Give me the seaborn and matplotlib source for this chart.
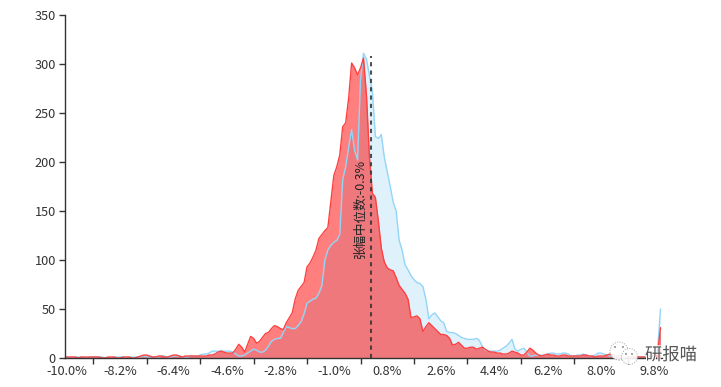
import numpy as np
import pandas as pd
import matplotlib
matplotlib.use("Agg")
import matplotlib.pyplot as plt
import seaborn as sns
from matplotlib.patches import Circle
import matplotlib.patheffects as pe

pct = [round(-10 + i * 0.1, 1) for i in range(201)]

red_vals = [1,1,1,1,0,1,1,1,1,1,
            1,1,0,0,1,1,1,0,0,1,
            1,1,0,0,1,2,3,3,2,1,
            1,2,2,1,1,2,3,3,2,1,
            2,2,2,2,2,2,2,2,3,3,
            4,6,7,6,5,5,5,9,14,11,
            6,14,22,20,15,17,21,25,26,30,
            33,32,30,29,36,41,46,60,69,73,
            77,93,97,103,110,122,126,130,133,160,
            186,195,207,236,240,265,301,296,289,296,
            306,268,205,168,164,140,112,98,92,90,
            89,82,74,70,66,60,41,42,43,40,
            27,32,36,33,30,27,24,24,23,20,
            13,14,16,13,10,10,11,11,9,10,
            11,9,7,6,6,5,5,4,4,5,
            7,6,5,3,3,6,10,8,5,3,
            2,3,4,3,3,2,2,3,3,2,
            2,2,2,2,3,3,2,2,1,2,
            2,2,3,4,3,2,2,2,1,1,
            1,1,1,1,1,1,1,2,2,4,
            31]

blue_vals = [1,0,0,1,1,1,0,0,1,1,
             1,1,1,0,0,0,1,1,1,1,
             0,1,1,1,1,1,2,1,1,1,
             1,1,2,2,1,1,2,2,2,1,
             1,1,2,2,2,3,4,4,5,7,
             7,7,7,7,7,7,6,4,2,2,
             3,5,7,9,8,6,6,8,12,17,
             19,20,20,26,32,31,30,30,33,37,
             45,56,58,60,61,66,74,100,110,115,
             118,120,126,182,195,215,233,212,202,284,
             311,305,288,272,226,224,228,205,190,175,
             159,150,120,110,95,90,84,80,77,76,
             73,60,40,44,46,42,38,36,27,26,
             26,25,23,21,20,19,19,19,20,18,
             12,8,7,7,7,7,8,10,12,15,
             19,9,7,9,10,6,2,2,3,3,
             3,3,4,5,5,4,4,5,5,4,
             2,2,3,3,4,3,2,2,3,5,
             5,4,3,2,2,2,2,1,1,1,
             1,1,1,1,1,1,1,2,3,8,
             50]

x_labels = ["-10.0%","-8.2%","-6.4%","-4.6%","-2.8%","-1.0%","0.8%","2.6%","4.4%","6.2%","8.0%","9.8%"]
x_label_pos = [-10.0,-8.2,-6.4,-4.6,-2.8,-1.0,0.8,2.6,4.4,6.2,8.0,9.8]
x_tick_pos = [-9.1,-7.3,-5.5,-3.7,-1.9,-0.1,1.7,3.5,5.3,7.1,8.9]
y_ticks = [0,50,100,150,200,250,300,350]
median_x = 0.25
median_top = 308

sns.set_theme(style="ticks")
plt.rcParams['font.family'] = ['Noto Sans CJK SC', 'DejaVu Sans']

df = pd.DataFrame({"pct": pct, "red": red_vals, "blue": blue_vals})

fig = plt.figure(figsize=(7.21, 3.87), dpi=100)
ax = fig.add_axes([65/721, (387-358)/387, (662-65)/721, (358-15)/387])

ax.fill_between(df["pct"], df["blue"], color="#dff2fb", lw=0)
sns.lineplot(data=df, x="pct", y="blue", ax=ax, color="#93d5f7", lw=1, solid_joinstyle="round")
ax.fill_between(df["pct"], df["red"], color="#ff0000", alpha=0.5, lw=0)
sns.lineplot(data=df, x="pct", y="red", ax=ax, color="#ff4040", lw=1, solid_joinstyle="round")

ax.plot([median_x, median_x], [0, median_top], color="#333333", lw=1.5, ls=(0, (2, 2)), alpha=0.85)
ax.text(-0.12, 153, "张幅中位数:-0.3%", rotation=90, ha="center", va="center", fontsize=9, color="#222222")

ax.set_xlim(-10.05, 10.05)
ax.set_ylim(0, 350)
ax.set_xlabel("")
ax.set_ylabel("")
ax.set_yticks(y_ticks)
ax.set_xticks(x_label_pos)
ax.set_xticklabels(x_labels)
ax.set_xticks(x_tick_pos, minor=True)
ax.tick_params(axis="x", which="major", length=0, pad=5, labelsize=9.2, labelcolor="#333333")
ax.tick_params(axis="x", which="minor", length=4, width=1, color="#333333")
ax.tick_params(axis="y", length=4.5, width=1, color="#333333", labelsize=9.2, labelcolor="#333333", pad=2)
sns.despine(ax=ax)
for s in ["left", "bottom"]:
    ax.spines[s].set_color("#333333")
    ax.spines[s].set_linewidth(1)

# watermark
def px(x, y):
    return (x / 100, (387 - y) / 100)

for cx, cy, r in [(619, 351, 9), (629.5, 356.5, 8)]:
    fig.add_artist(Circle(px(cx, cy), r / 100, transform=fig.dpi_scale_trans, fc="#ffffff", ec="#999999", lw=0.7, ls=(0, (1, 1.5)), alpha=0.9, zorder=5))
for cx, cy in [(615, 347), (623, 347), (626, 354), (632, 354)]:
    fig.add_artist(Circle(px(cx, cy), 0.9 / 100, transform=fig.dpi_scale_trans, fc="#777777", ec="none", zorder=6))
fig.text(671/721, 1 - 355/387, "研报喵", ha="center", va="center", fontsize=12.5, color="#555555", zorder=7,
         path_effects=[pe.withStroke(linewidth=1.5, foreground="white")])

fig.savefig("out.png", dpi=100)
